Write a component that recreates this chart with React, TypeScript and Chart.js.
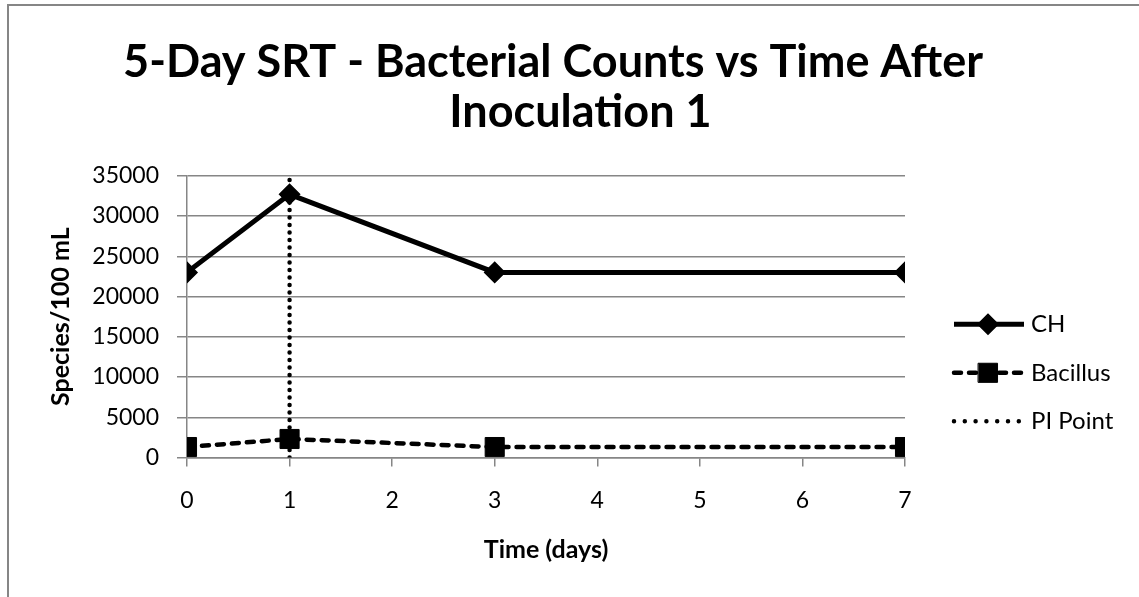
import React, { useEffect, useRef } from 'react';
import { Chart, registerables } from 'chart.js';
import { drawPoint } from 'chart.js/helpers';

Chart.register(...registerables);

const days = [0, 1, 3, 7];
const chCounts = [23000, 32700, 23000, 23000];
const bacillusCounts = [1300, 2300, 1300, 1300];
const piDays = [1, 1];
const piCounts = [0, 35000];
const xTicks = [0, 1, 2, 3, 4, 5, 6, 7];
const yTicks = [0, 5000, 10000, 15000, 20000, 25000, 30000, 35000];
const seriesNames = ['CH', 'Bacillus', 'PI Point'];
const titleLines = ['5-Day SRT - Bacterial Counts vs Time After   ', '  Inoculation 1'];
const xTitle = 'Time (days)';
const yTitle = 'Species/100 mL';

const FONT = 'Lato, "Noto Sans", sans-serif';
const GRAY = '#868686';

const sideLegend = {
  id: 'sideLegend',
  afterDraw(chart: any) {
    const ctx = chart.ctx;
    const area = chart.chartArea;
    const x0 = area.right + 49;
    const x1 = area.right + 119;
    const mx = (x0 + x1) / 2 - 1;
    const tx = area.right + 126;
    chart.data.datasets.forEach((ds: any, i: number) => {
      const y = area.top + 148.5 + i * 48.5;
      ctx.save();
      ctx.strokeStyle = ds.borderColor;
      ctx.lineWidth = ds.borderWidth;
      ctx.lineCap = ds.borderCapStyle || 'butt';
      ctx.setLineDash(ds.legendDash || ds.borderDash || []);
      ctx.beginPath();
      ctx.moveTo(x0, y);
      ctx.lineTo(x1, y);
      ctx.stroke();
      ctx.setLineDash([]);
      if (ds.pointRadius > 0) {
        ctx.fillStyle = ds.pointBackgroundColor;
        ctx.strokeStyle = ds.pointBorderColor;
        ctx.lineWidth = ds.pointBorderWidth;
        drawPoint(ctx, { pointStyle: ds.pointStyle, radius: ds.pointRadius, rotation: 0, borderWidth: ds.pointBorderWidth } as any, mx, y);
      }
      ctx.fillStyle = '#000';
      ctx.font = `24px ${FONT}`;
      ctx.textAlign = 'left';
      ctx.textBaseline = 'middle';
      ctx.fillText(ds.label, tx, y);
      ctx.restore();
    });
  },
};

export default function App() {
  const ref = useRef<HTMLCanvasElement>(null);

  useEffect(() => {
    if (!ref.current) return;
    const chart = new Chart(ref.current, {
      type: 'line',
      data: {
        datasets: [
          {
            label: seriesNames[0],
            data: days.map((d, i) => ({ x: d, y: chCounts[i] })),
            borderColor: '#000',
            borderWidth: 5,
            pointStyle: 'rectRot',
            pointRadius: 10,
            pointBorderWidth: 1.5,
            pointBackgroundColor: '#000',
            pointBorderColor: '#000',
            tension: 0,
          },
          {
            label: seriesNames[1],
            data: days.map((d, i) => ({ x: d, y: bacillusCounts[i] })),
            borderColor: '#000',
            borderWidth: 4.5,
            borderDash: [7, 8],
            borderCapStyle: 'round',
            legendDash: [7, 8],
            pointStyle: 'rect',
            pointRadius: 13.5,
            pointBorderWidth: 1,
            pointBackgroundColor: '#000',
            pointBorderColor: '#000',
            tension: 0,
          } as any,
          {
            label: seriesNames[2],
            data: piDays.map((d, i) => ({ x: d, y: piCounts[i] })),
            borderColor: '#000',
            borderWidth: 4.5,
            borderDash: [0, 7.5],
            borderCapStyle: 'round',
            legendDash: [0, 10.8],
            pointRadius: 0,
            tension: 0,
          } as any,
        ],
      },
      options: {
        responsive: false,
        animation: false,
        events: [],
        layout: { padding: 0 },
        plugins: {
          legend: { display: false },
          tooltip: { enabled: false },
          title: {
            display: true,
            text: titleLines,
            color: '#000',
            font: { family: FONT, size: 45, weight: 'bold', lineHeight: 1.12 },
            padding: { top: 37, bottom: 38 },
          },
        },
        scales: {
          x: {
            type: 'linear',
            min: xTicks[0],
            max: xTicks[xTicks.length - 1],
            afterBuildTicks: (s: any) => {
              s.ticks = xTicks.map((v) => ({ value: v }));
            },
            afterFit: (s: any) => {
              s.height = 139.5;
            },
            grid: { drawOnChartArea: false, drawTicks: true, tickLength: 9, color: GRAY, lineWidth: 1.5 },
            border: { display: true, color: GRAY, width: 1.5 },
            ticks: { color: '#000', font: { family: FONT, size: 23 }, padding: 20, maxRotation: 0, callback: (v: any) => String(v) },
            title: {
              display: true,
              text: xTitle,
              color: '#000',
              font: { family: FONT, size: 25, weight: 'bold', lineHeight: 1.2 },
              padding: { top: 0, bottom: 32 },
            },
          },
          y: {
            type: 'linear',
            min: yTicks[0],
            max: yTicks[yTicks.length - 1],
            afterBuildTicks: (s: any) => {
              s.ticks = yTicks.map((v) => ({ value: v }));
            },
            afterFit: (s: any) => {
              s.width = 187;
            },
            grid: { drawTicks: true, tickLength: 10, color: GRAY, lineWidth: 1.5 },
            border: { display: true, color: GRAY, width: 1.5 },
            ticks: { color: '#000', font: { family: FONT, size: 23 }, padding: 18, callback: (v: any) => String(v) },
            title: {
              display: true,
              text: yTitle,
              color: '#000',
              font: { family: FONT, size: 25, weight: 'bold', lineHeight: 1.2 },
              padding: { top: 46, bottom: 0 },
            },
          },
          spacer: {
            type: 'linear',
            position: 'right',
            display: true,
            grid: { display: false, drawTicks: false },
            border: { display: false },
            ticks: { display: false },
            afterFit: (s: any) => {
              s.width = 234;
            },
          },
        },
      } as any,
      plugins: [sideLegend],
    });
    return () => chart.destroy();
  }, []);

  return (
    <div style={{ position: 'fixed', left: 0, top: 0, width: 1139, height: 597, overflow: 'hidden', background: '#fff' }}>
      <div
        style={{
          position: 'absolute',
          left: 7,
          top: 4,
          width: 1200,
          height: 700,
          borderTop: `2px solid ${GRAY}`,
          borderLeft: `2px solid ${GRAY}`,
        }}
      />
      <canvas ref={ref} width={1139} height={597} style={{ position: 'absolute', left: 0, top: 0 }} />
    </div>
  );
}
